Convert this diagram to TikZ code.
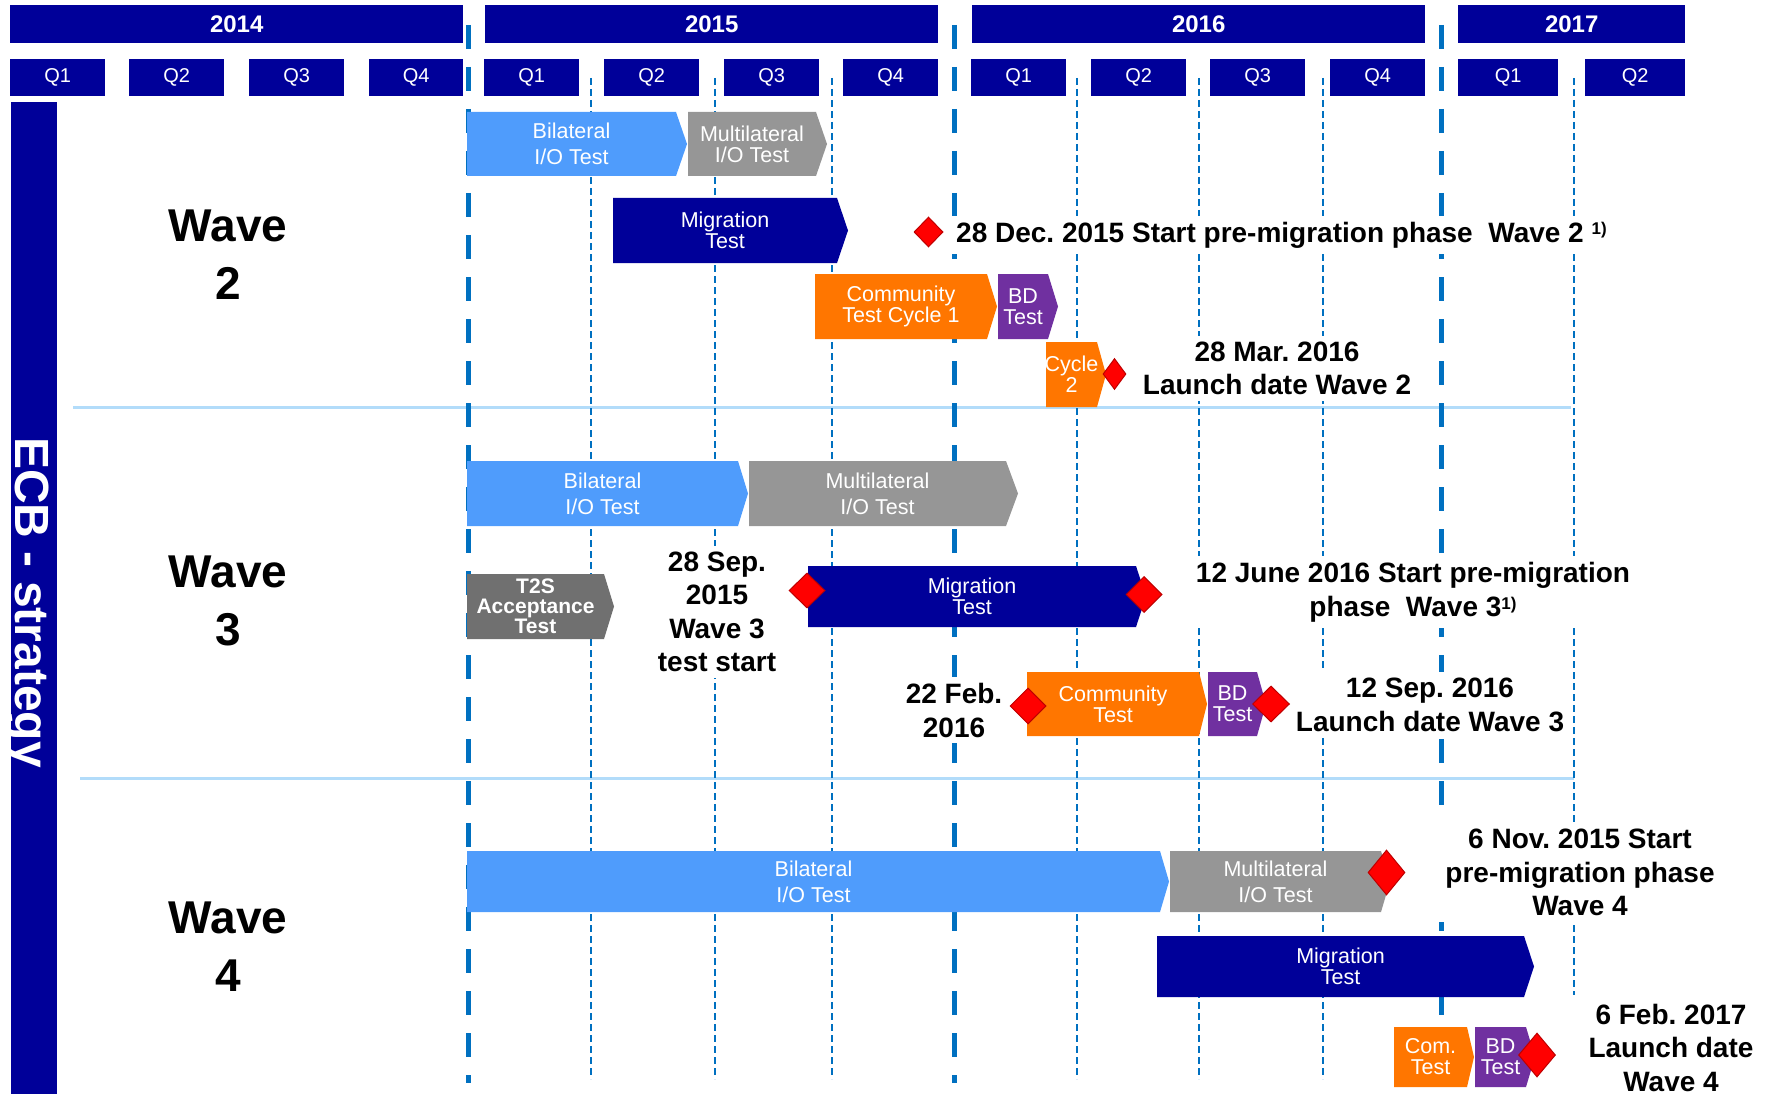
\documentclass[tikz,border=0pt]{standalone}
\usepackage{fontspec}
\setmainfont{Liberation Sans}
\usetikzlibrary{shapes.geometric}
\frenchspacing

\definecolor{navy}{RGB}{0,0,153}
\definecolor{bilat}{RGB}{79,156,252}
\definecolor{multi}{RGB}{150,150,150}
\definecolor{tgray}{RGB}{112,112,112}
\definecolor{comm}{RGB}{255,118,0}
\definecolor{bdpurple}{RGB}{112,48,160}
\definecolor{gridblue}{RGB}{0,112,192}
\definecolor{seplight}{RGB}{178,220,250}
\definecolor{msred}{RGB}{255,0,0}
\definecolor{msedge}{RGB}{190,0,0}

% phase bar: name, colour, x-left, x-right, x-tip, y-top, y-bottom, text style, label
\newcommand{\phasebar}[9]{%
  \fill[#2] (#3,#6) -- (#4,#6) -- (#5,{(#6+#7)/2}) -- (#4,#7) -- (#3,#7) -- cycle;
  \node[#8] (#1) at ({(#3+#4)/2},{(#6+#7)/2}) {#9};}

\newcommand{\supone}{\raisebox{7pt}{\fontsize{17}{17}\selectfont 1)}}

\tikzset{
  yearbox/.style={fill=navy, text=white, anchor=north west, inner sep=0pt,
    minimum height=38pt, font=\fontsize{24}{24}\selectfont\bfseries},
  qbox/.style={fill=navy, text=white, anchor=north west, inner sep=0pt,
    minimum height=37pt, font=\fontsize{20}{20}\selectfont},
  bartext/.style={text=white, align=center, inner sep=0pt,
    font=\fontsize{21.5}{21}\selectfont},
  bartextwide/.style={bartext, font=\fontsize{21.5}{26}\selectfont},
  bartextbold/.style={bartext, font=\fontsize{21}{20}\selectfont\bfseries},
  wavelabel/.style={align=center, inner sep=0pt,
    font=\fontsize{46}{58}\selectfont\bfseries},
  datelabel/.style={fill=white, align=center, inner xsep=8pt, inner ysep=6pt,
    font=\fontsize{28}{33.5}\selectfont\bfseries},
  milestone/.style={diamond, fill=msred, draw=msedge, line width=1pt,
    inner sep=0pt, minimum width=#1},
  thingrid/.style={gridblue, line width=2pt, dash pattern=on 7pt off 4pt},
  thickgrid/.style={gridblue, line width=5pt, dash pattern=on 24pt off 18pt},
  sepline/.style={seplight, line width=3pt}
}

\begin{document}
\begin{tikzpicture}[x=1pt, y=-1pt]
\useasboundingbox (0,0) rectangle (1772,1094);

% wave separators
\draw[sepline] (73,407) -- (1571,407);
\draw[sepline] (80,778) -- (1574,778);

% quarter and year grid
\foreach \gx in {591,715,832,1077,1198.5,1322.5}
  \draw[thingrid] (\gx,78) -- (\gx,1079);
\draw[thingrid] (1574,78) -- (1574,995);
\foreach \gx in {468,954.5,1441.5}
  \draw[thickgrid] (\gx,25) -- (\gx,1083);

% year headers
\node[yearbox, minimum width=453pt] (y2014) at (10,5) {2014};
\node[yearbox, minimum width=453pt] (y2015) at (485,5) {2015};
\node[yearbox, minimum width=453pt] (y2016) at (972,5) {2016};
\node[yearbox, minimum width=227pt] (y2017) at (1458,5) {2017};

% quarter headers
\node[qbox, minimum width=95pt] (q14a) at (10,59) {Q1};
\node[qbox, minimum width=95pt] (q14b) at (129,59) {Q2};
\node[qbox, minimum width=95pt] (q14c) at (249,59) {Q3};
\node[qbox, minimum width=94pt] (q14d) at (369,59) {Q4};
\node[qbox, minimum width=95pt] (q15a) at (484,59) {Q1};
\node[qbox, minimum width=95pt] (q15b) at (604,59) {Q2};
\node[qbox, minimum width=95pt] (q15c) at (724,59) {Q3};
\node[qbox, minimum width=95pt] (q15d) at (843,59) {Q4};
\node[qbox, minimum width=95pt] (q16a) at (971,59) {Q1};
\node[qbox, minimum width=95pt] (q16b) at (1091,59) {Q2};
\node[qbox, minimum width=95pt] (q16c) at (1210,59) {Q3};
\node[qbox, minimum width=95pt] (q16d) at (1330,59) {Q4};
\node[qbox, minimum width=100pt] (q17a) at (1458,59) {Q1};
\node[qbox, minimum width=100pt] (q17b) at (1585,59) {Q2};

% side bar
\fill[navy] (11,102) rectangle (57,1094);
\node[rotate=-90, anchor=base west, inner sep=0pt, text=white,
  font=\fontsize{48}{48}\selectfont\bfseries] (ecb) at (15.5,437) {ECB - strategy};

% wave titles
\node[wavelabel] (wave2) at (228,254.5) {Wave\\2};
\node[wavelabel] (wave3) at (228,600.5) {Wave\\3};
\node[wavelabel] (wave4) at (228,946.5) {Wave\\4};

% wave 2
\phasebar{b2bil}{bilat}{467}{676}{687}{112}{176}{bartextwide}{Bilateral\\I/O Test}
\phasebar{b2mul}{multi}{688}{816}{827}{112}{176}{bartext}{Multilateral\\I/O Test}
\phasebar{b2mig}{navy}{613}{837}{848}{198}{263}{bartext}{Migration\\Test}
\phasebar{b2com}{comm}{815}{987}{997}{274}{339}{bartext}{Community\\Test Cycle 1}
\phasebar{b2bd}{bdpurple}{998}{1048}{1058}{274}{339}{bartext}{BD\\Test}
\phasebar{b2cyc}{comm}{1046}{1097}{1106}{342}{407}{bartext}{Cycle\\2}

% wave 3
\phasebar{b3bil}{bilat}{467}{738}{748}{461}{526}{bartextwide}{Bilateral\\I/O Test}
\phasebar{b3mul}{multi}{749}{1006}{1018}{461}{526}{bartextwide}{Multilateral\\I/O Test}
\phasebar{b3t2s}{tgray}{467}{604}{614}{574}{639}{bartextbold}{T2S\\Acceptance\\Test}
\phasebar{b3mig}{navy}{808}{1136}{1146}{566}{627}{bartext}{Migration\\Test}
\phasebar{b3com}{comm}{1027}{1199}{1207}{672}{736}{bartext}{Community\\Test}
\phasebar{b3bd}{bdpurple}{1208}{1257}{1266}{672}{736}{bartext}{BD\\Test}

% wave 4
\phasebar{b4bil}{bilat}{467}{1160}{1169}{851}{912}{bartextwide}{Bilateral\\I/O Test}
\phasebar{b4mul}{multi}{1170}{1381}{1390}{851}{912}{bartextwide}{Multilateral\\I/O Test}
\phasebar{b4mig}{navy}{1157}{1524}{1534}{936}{997}{bartext}{Migration\\Test}
\phasebar{b4com}{comm}{1394}{1467}{1474}{1027}{1087}{bartext}{Com.\\Test}
\phasebar{b4bd}{bdpurple}{1475}{1526}{1535}{1027}{1087}{bartext}{BD\\Test}

% milestone texts
\node[datelabel, anchor=base west] (t2a) at (948,242)
  {28 Dec. 2015 Start pre-migration phase~~Wave 2 \supone};
\node[datelabel] (t2b) at (1277,368.3) {28 Mar. 2016\\Launch date Wave 2};
\node[datelabel] (t3a) at (717,611.8) {28 Sep.\\2015\\Wave 3\\test start};
\node[datelabel] (t3b) at (1413,592.2)
  {12 June 2016 Start pre-migration\\phase~~Wave 3\supone};
\node[datelabel] (t3c) at (954,710.3) {22 Feb.\\2016};
\node[datelabel] (t3d) at (1430,704.8) {12 Sep. 2016\\Launch date Wave 3};
\node[datelabel] (t4a) at (1580,872.8) {6 Nov. 2015 Start\\pre-migration phase\\Wave 4};
\node[datelabel] (t4b) at (1671,1047.8) {6 Feb. 2017\\Launch date\\Wave 4};

% milestones
\node[milestone=29pt, minimum height=30pt] (m2a) at (928.5,232) {};
\node[milestone=23pt, minimum height=31pt] (m2b) at (1114.5,374) {};
\node[milestone=36pt, minimum height=35pt] (m3a) at (807,590.5) {};
\node[milestone=36pt, minimum height=36pt] (m3b) at (1144,594.5) {};
\node[milestone=36pt, minimum height=36pt] (m3c) at (1028,706) {};
\node[milestone=37pt, minimum height=36pt] (m3d) at (1271,704) {};
\node[milestone=37pt, minimum height=45pt] (m4a) at (1386.5,872.5) {};
\node[milestone=37pt, minimum height=44pt] (m4b) at (1537,1055) {};
\end{tikzpicture}
\end{document}
